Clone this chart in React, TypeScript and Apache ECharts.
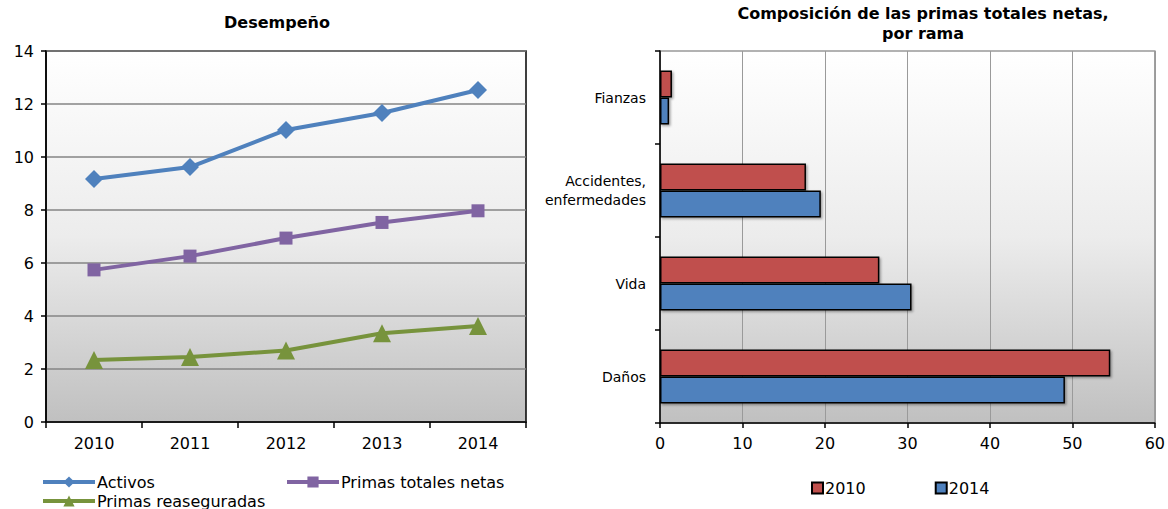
import React, { useEffect, useRef } from "react";
import * as echarts from "echarts";

const years = ["2010", "2011", "2012", "2013", "2014"];
const activos = [9.17, 9.62, 11.02, 11.66, 12.53];
const primasTotales = [5.74, 6.26, 6.94, 7.53, 7.97];
const primasReaseguradas = [2.34, 2.45, 2.7, 3.35, 3.62];

const ramas = ["Daños", "Vida", "Accidentes,\nenfermedades", "Fianzas"];
const comp2010 = [54.6, 26.6, 17.7, 1.45];
const comp2014 = [49.1, 30.5, 19.5, 1.1];

const FONT = "DejaVu Sans";

export default function App() {
  const ref = useRef<HTMLDivElement>(null);
  useEffect(() => {
    document.body.style.margin = "0";
    const chart = echarts.init(ref.current!, undefined, { renderer: "svg" });
    const bg = () =>
      new echarts.graphic.LinearGradient(0, 0, 0, 1, [
        { offset: 0, color: "#ffffff" },
        { offset: 0.5, color: "#ececec" },
        { offset: 1, color: "#c0c0c0" },
      ]);
    const lineSeries = (name: string, data: number[], color: string, symbol: string, size: number) => ({
      type: "line",
      name,
      data,
      xAxisIndex: 0,
      yAxisIndex: 0,
      symbol,
      symbolSize: size,
      lineStyle: { color, width: 4 },
      itemStyle: { color },
    });
    const lineLegend = (name: string, left: number, top: number) => ({
      data: [name],
      left,
      top,
      itemWidth: 52,
      itemHeight: 14,
      padding: 0,
      lineStyle: { width: 4 },
      textStyle: { fontFamily: FONT, fontSize: 16, color: "#000", padding: [0, 0, 0, -3] },
    });
    chart.setOption({
      animation: false,
      textStyle: { fontFamily: FONT },
      title: [
        {
          text: "Desempeño",
          left: 272,
          top: 9,
          textAlign: "center",
          textStyle: { fontFamily: FONT, fontSize: 16, fontWeight: "bold", color: "#000" },
        },
        {
          text: "Composición de las primas totales netas,\npor rama",
          left: 918,
          top: -2,
          textAlign: "center",
          textStyle: { fontFamily: FONT, fontSize: 16, fontWeight: "bold", color: "#000", lineHeight: 20 },
        },
      ],
      legend: [
        lineLegend("Activos", 41, 474),
        lineLegend("Primas totales netas", 285, 474),
        lineLegend("Primas reaseguradas", 41, 493),
        {
          data: ["2010", "2014"],
          left: 811,
          top: 480,
          itemWidth: 11,
          itemHeight: 11,
          itemGap: 69,
          padding: 0,
          icon: "rect",
          textStyle: { fontFamily: FONT, fontSize: 16, color: "#000", padding: [0, 0, 0, -3] },
        },
      ],
      grid: [
        {
          left: 46,
          top: 51,
          width: 480,
          height: 371,
          show: true,
          backgroundColor: bg(),
          borderColor: "#000",
          borderWidth: 1.5,
        },
        {
          left: 660,
          top: 51,
          width: 496,
          height: 372,
          show: true,
          backgroundColor: bg(),
          borderColor: "#999",
          borderWidth: 1.5,
        },
      ],
      xAxis: [
        {
          type: "category",
          gridIndex: 0,
          data: years,
          boundaryGap: true,
          axisLine: { lineStyle: { color: "#000", width: 1.5 } },
          axisTick: { show: true, length: 6, lineStyle: { color: "#000", width: 1.5 } },
          axisLabel: { fontFamily: FONT, fontSize: 16, color: "#000", margin: 13 },
        },
        {
          type: "value",
          gridIndex: 1,
          min: 0,
          max: 60,
          interval: 10,
          axisLine: { show: true, lineStyle: { color: "#000", width: 1.5 } },
          axisTick: { show: true, length: 5, lineStyle: { color: "#000", width: 1.5 } },
          axisLabel: { fontFamily: FONT, fontSize: 16, color: "#000", margin: 12 },
          splitLine: { show: true, lineStyle: { color: "#9a9a9a", width: 1 } },
        },
      ],
      yAxis: [
        {
          type: "value",
          gridIndex: 0,
          min: 0,
          max: 14,
          interval: 2,
          axisLine: { show: true, lineStyle: { color: "#000", width: 1.5 } },
          axisTick: { show: true, length: 5, lineStyle: { color: "#000", width: 1.5 } },
          axisLabel: { fontFamily: FONT, fontSize: 16, color: "#000", margin: 12 },
          splitLine: { show: true, lineStyle: { color: "#858585", width: 1.5 } },
        },
        {
          type: "category",
          gridIndex: 1,
          data: ramas,
          axisLine: { show: true, lineStyle: { color: "#000", width: 1.5 } },
          axisTick: { show: true, length: 5, lineStyle: { color: "#000", width: 1.5 } },
          axisLabel: { fontFamily: FONT, fontSize: 14, color: "#000", margin: 14, lineHeight: 19, align: "right" },
        },
      ],
      series: [
        lineSeries("Activos", activos, "#4F81BD", "diamond", 18),
        lineSeries("Primas totales netas", primasTotales, "#8064A2", "rect", 13),
        lineSeries("Primas reaseguradas", primasReaseguradas, "#77933C", "triangle", 18),
        {
          type: "bar",
          name: "2010",
          xAxisIndex: 1,
          yAxisIndex: 1,
          data: comp2010,
          barWidth: 27,
          barGap: "0%",
          itemStyle: {
            color: "#C0504D",
            borderColor: "#000",
            borderWidth: 1.5,
            shadowColor: "rgba(0,0,0,0.35)",
            shadowOffsetX: 1.5,
            shadowOffsetY: 1.5,
            shadowBlur: 2,
          },
        },
        {
          type: "bar",
          name: "2014",
          xAxisIndex: 1,
          yAxisIndex: 1,
          data: comp2014,
          barWidth: 27,
          barGap: "0%",
          itemStyle: {
            color: "#4F81BD",
            borderColor: "#000",
            borderWidth: 1.5,
            shadowColor: "rgba(0,0,0,0.35)",
            shadowOffsetX: 1.5,
            shadowOffsetY: 1.5,
            shadowBlur: 2,
          },
        },
      ],
    });
    return () => chart.dispose();
  }, []);
  return <div ref={ref} style={{ width: 1168, height: 509 }} />;
}
